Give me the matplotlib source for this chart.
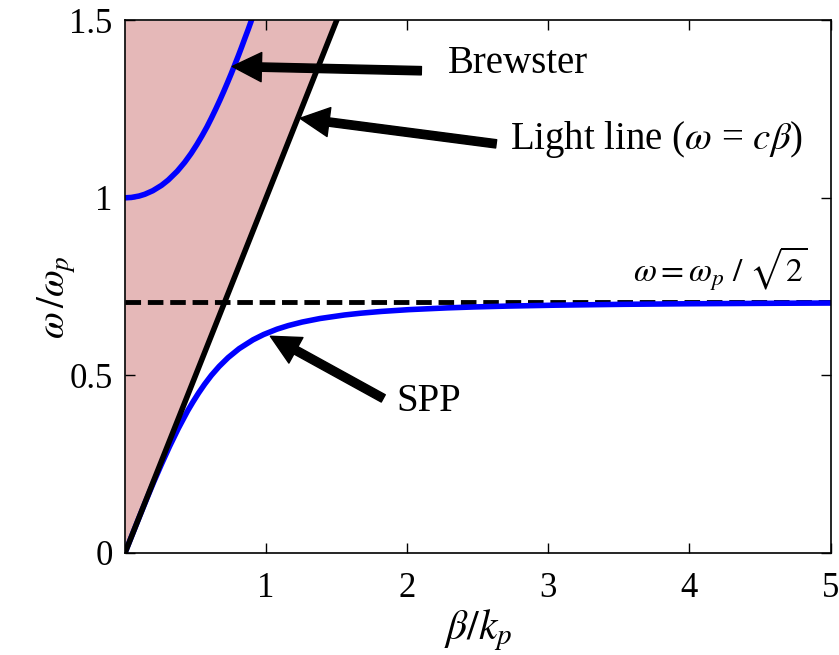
import matplotlib
matplotlib.use('Agg')
import matplotlib.pyplot as plt

plt.rcParams['font.family'] = ['Liberation Serif', 'DejaVu Serif']
plt.rcParams['mathtext.fontset'] = 'stix'

# SPP branch (beta/kp, omega/omegap)
spp_beta = [0.0, 0.0502, 0.1005, 0.1518, 0.204, 0.2588, 0.316, 0.3773, 0.444, 0.4814,
            0.521, 0.5643, 0.612, 0.667, 0.731, 0.8083, 0.907, 0.9826, 1.077, 1.1565,
            1.255, 1.3816, 1.556, 1.6717, 1.818, 2.0116, 2.284, 2.4706, 2.712, 3.0425,
            3.535, 3.9779, 4.646, 5.0]
spp_omega = [0.0, 0.05, 0.1, 0.15, 0.2, 0.25, 0.3, 0.35, 0.4, 0.425,
             0.45, 0.475, 0.5, 0.525, 0.55, 0.575, 0.6, 0.615, 0.63, 0.64,
             0.65, 0.66, 0.67, 0.675, 0.68, 0.685, 0.69, 0.6925, 0.695, 0.6975,
             0.70, 0.7015, 0.703, 0.7036]

# Brewster branch above the plasma frequency
brew_beta = [0.0, 0.0447, 0.0996, 0.1404, 0.197, 0.2584, 0.306, 0.3703, 0.423, 0.4686,
             0.509, 0.5462, 0.581, 0.6127, 0.643, 0.6721, 0.700, 0.7268, 0.753, 0.7781,
             0.803, 0.8268, 0.850, 0.8736, 0.896]
brew_omega = [1.0, 1.001, 1.005, 1.01, 1.02, 1.035, 1.05, 1.075, 1.10, 1.125,
              1.15, 1.175, 1.20, 1.225, 1.25, 1.275, 1.30, 1.325, 1.35, 1.375,
              1.40, 1.425, 1.45, 1.475, 1.50]

# light line omega = c*beta
light_beta = [0.0, 1.5]
light_omega = [0.0, 1.5]

omega_sp = 0.7071

fig = plt.figure(figsize=(8.39, 6.55), dpi=100)
ax = fig.add_axes([0.149, 0.156, 0.841, 0.813])

ax.fill_between(light_beta, light_omega, 1.5, color='#e5b8b8', lw=0)
ax.axhline(omega_sp, color='black', ls=(0, (3.2, 1.4)), lw=3.5)
ax.plot(spp_beta, spp_omega, color='#0000ff', lw=4, solid_joinstyle='round')
ax.plot(brew_beta, brew_omega, color='#0000ff', lw=4, solid_joinstyle='round')
ax.plot(light_beta, light_omega, color='black', lw=4)

arrow = dict(facecolor='black', edgecolor='black', width=6, headwidth=21,
             headlength=21, shrink=0)
fs = 28
ax.annotate('', xy=(0.76, 1.37), xytext=(2.1, 1.358), arrowprops=arrow)
ax.text(2.29, 1.378, 'Brewster', fontsize=fs, va='center', ha='left')
ax.annotate('', xy=(1.24, 1.224), xytext=(2.63, 1.152), arrowprops=arrow)
ax.text(2.73, 1.163, r'Light line ($\omega$ = $c\beta$)', fontsize=fs,
        va='center', ha='left')
ax.annotate('', xy=(1.03, 0.61), xytext=(1.83, 0.435), arrowprops=arrow)
ax.text(1.92, 0.425, 'SPP', fontsize=fs, va='center', ha='left')
ax.text(4.84, 0.80, r'$\omega = \omega_p\ /\ \sqrt{2}$', fontsize=24,
        ha='right', va='center')

ax.set_xlim(0, 5)
ax.set_ylim(0, 1.5)
ax.set_xticks([1, 2, 3, 4, 5])
ax.set_yticks([0, 0.5, 1, 1.5])
ax.set_yticklabels(['0', '0.5', '1', '1.5'])
ax.tick_params(direction='in', length=7, width=1, top=True, right=True,
               labelsize=25)
ax.tick_params(axis='x', pad=14)
ax.tick_params(axis='y', pad=9)
ax.set_xlabel(r'$\beta/k_p$', fontsize=30, labelpad=2)
ax.text(-0.097, 0.48, r'$\omega\,/\omega_p$', fontsize=28, rotation=90,
        ha='center', va='center', transform=ax.transAxes)
for s in ax.spines.values():
    s.set_linewidth(1.2)

fig.savefig('out.png', dpi=100)
